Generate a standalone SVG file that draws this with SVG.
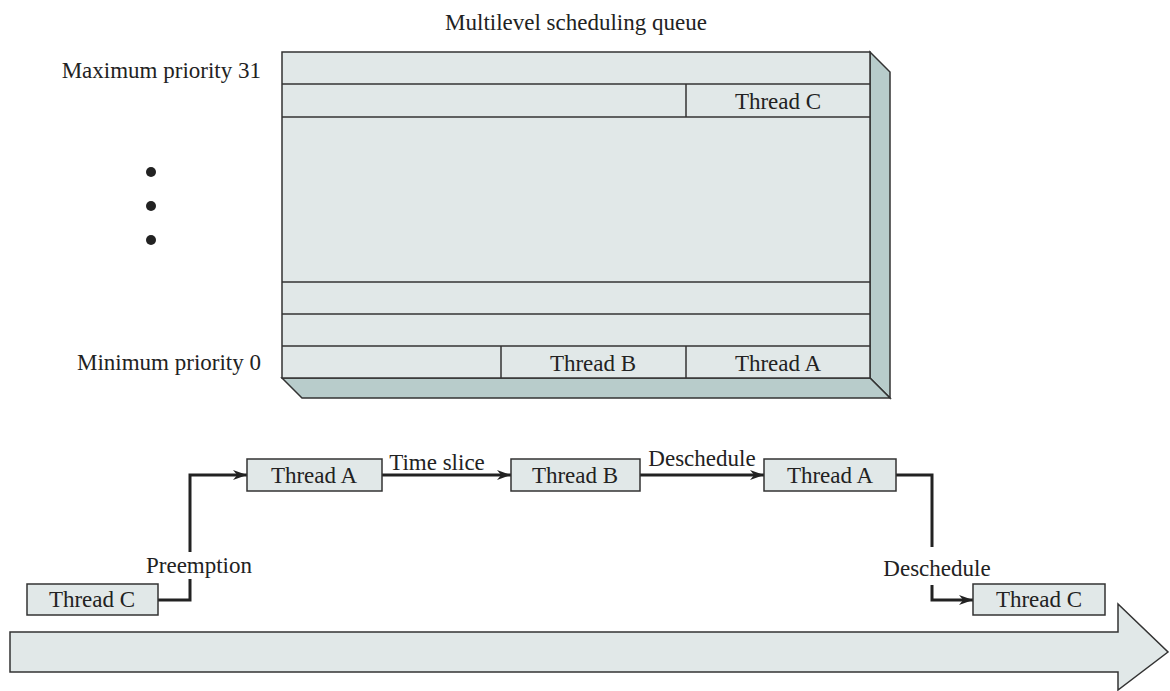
<svg xmlns="http://www.w3.org/2000/svg" width="1170" height="691" viewBox="0 0 1170 691">
<style>
text{font-family:"Liberation Serif","Times New Roman",serif;font-size:23px;fill:#222}
.c{text-anchor:middle}
.r{text-anchor:end}
.box{fill:#e1e8e8;stroke:#333;stroke-width:1.5}
.side{fill:#b8cccb;stroke:#333;stroke-width:1.5}
.ln{fill:none;stroke:#333;stroke-width:1.5}
.conn{fill:none;stroke:#222;stroke-width:3}
</style>
<defs>
<marker id="ah" viewBox="0 0 10 10" refX="10" refY="5" markerWidth="14" markerHeight="10" markerUnits="userSpaceOnUse" orient="auto" preserveAspectRatio="none">
<path d="M0,0 L10,5 L0,10 L3,5 Z" fill="#222"/>
</marker>
</defs>
<rect width="1170" height="691" fill="#fff"/>
<text class="c" x="576" y="30">Multilevel scheduling queue</text>
<text class="r" x="261" y="78">Maximum priority 31</text>
<text class="r" x="261" y="370">Minimum priority 0</text>
<circle cx="151" cy="172" r="5" fill="#222"/>
<circle cx="151" cy="206" r="5" fill="#222"/>
<circle cx="151" cy="240" r="5" fill="#222"/>
<g id="queue">
<polygon class="side" points="870,52 890,72 890,398 870,378"/>
<polygon class="side" points="282,378 870,378 890,398 302,398"/>
<rect class="box" x="282" y="52" width="588" height="326"/>
<line class="ln" x1="282" y1="84" x2="870" y2="84"/>
<line class="ln" x1="282" y1="117" x2="870" y2="117"/>
<line class="ln" x1="282" y1="282" x2="870" y2="282"/>
<line class="ln" x1="282" y1="314" x2="870" y2="314"/>
<line class="ln" x1="282" y1="346" x2="870" y2="346"/>
<line class="ln" x1="686" y1="84" x2="686" y2="117"/>
<line class="ln" x1="501" y1="346" x2="501" y2="378"/>
<line class="ln" x1="686" y1="346" x2="686" y2="378"/>
<text class="c" x="778" y="109">Thread C</text>
<text class="c" x="593" y="371">Thread B</text>
<text class="c" x="778" y="371">Thread A</text>
</g>
<g id="timeline">
<polygon class="box" points="10,632 1118,632 1118,604 1168,652 1118,690 1118,672 10,672"/>
</g>
<g id="connectors">
<polyline class="conn" points="158,600 190,600 190,579"/>
<polyline class="conn" points="190,552 190,475 247,475" marker-end="url(#ah)"/>
<line class="conn" x1="382" y1="475" x2="511" y2="475" marker-end="url(#ah)"/>
<line class="conn" x1="640" y1="475" x2="764" y2="475" marker-end="url(#ah)"/>
<polyline class="conn" points="896,475 932,475 932,547"/>
<polyline class="conn" points="932,585 932,600 973,600" marker-end="url(#ah)"/>
<text class="c" x="199" y="573">Preemption</text>
<text class="c" x="437" y="470">Time slice</text>
<text class="c" x="702" y="466">Deschedule</text>
<text class="c" x="937" y="576">Deschedule</text>
</g>
<g id="threadC1"><rect class="box" x="27" y="584" width="131" height="31"/><text class="c" x="92" y="607">Thread C</text></g>
<g id="threadA1"><rect class="box" x="247" y="459" width="135" height="32"/><text class="c" x="314" y="483">Thread A</text></g>
<g id="threadB"><rect class="box" x="511" y="459" width="129" height="32"/><text class="c" x="575" y="483">Thread B</text></g>
<g id="threadA2"><rect class="box" x="764" y="459" width="132" height="32"/><text class="c" x="830" y="483">Thread A</text></g>
<g id="threadC2"><rect class="box" x="973" y="584" width="132" height="31"/><text class="c" x="1039" y="607">Thread C</text></g>
</svg>
